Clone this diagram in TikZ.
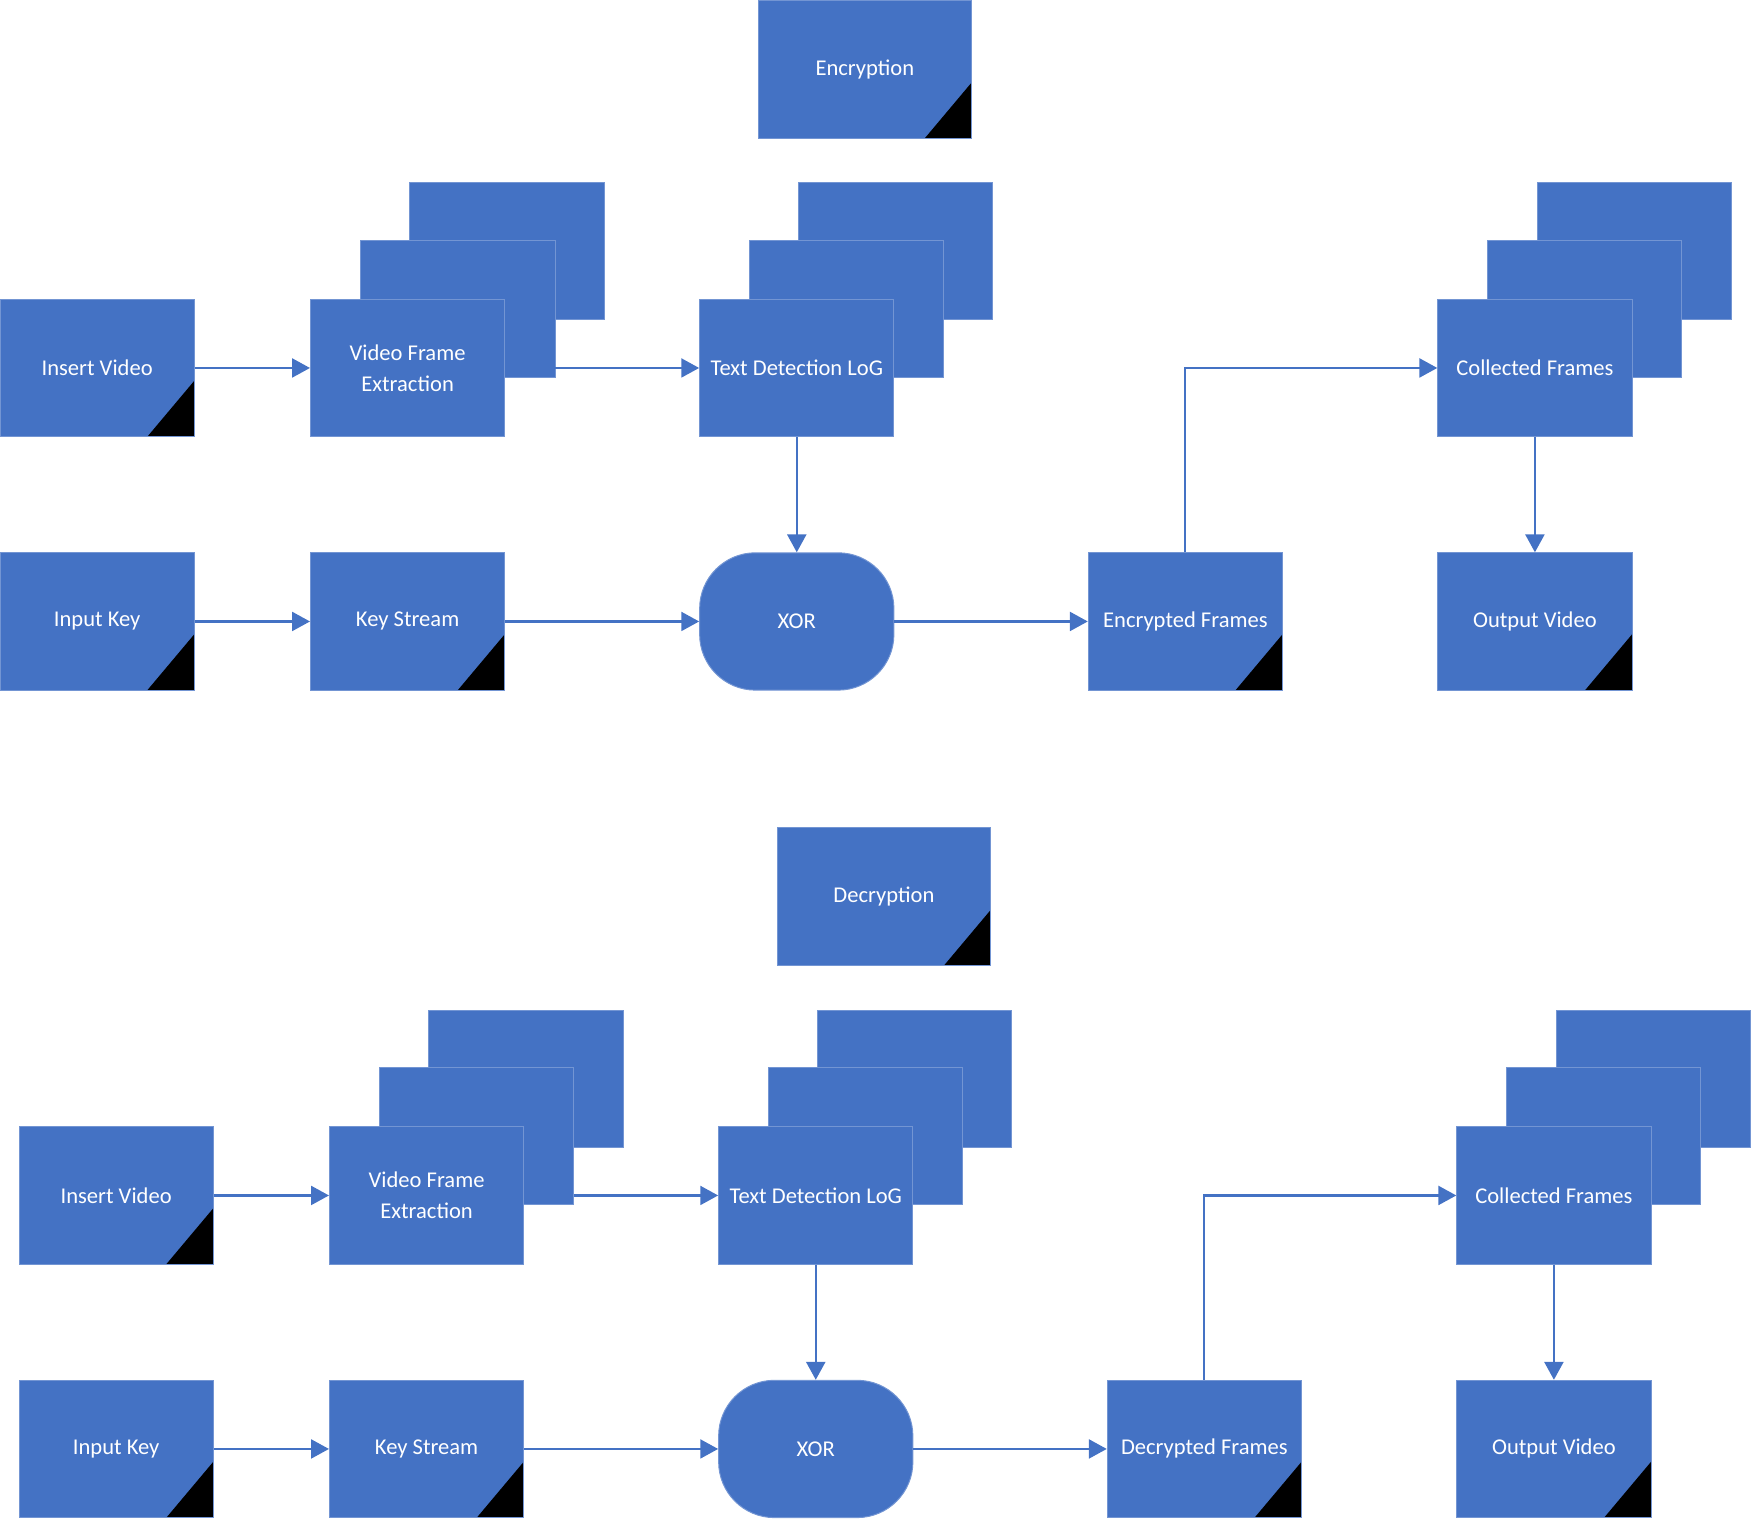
\documentclass[tikz,border=0pt]{standalone}
\usepackage{fontspec}
\setmainfont{Carlito}
\usetikzlibrary{arrows.meta}
\definecolor{blu}{RGB}{68,114,196}
\tikzset{
	blk/.style={
		fill=blu,
		draw=blu!75!white,
		line width=0.5pt,
		text=white,
		minimum width=3.48cm,
		minimum height=2.46cm,
		inner sep=0pt,
		align=center,
		font=\fontsize{11.5}{16}\selectfont,
	},
	corner/.style={
		path picture={\fill [black] (path picture bounding box.south east)
			-- ++(-0.84cm,0) -- ++(0.84cm,1cm) -- cycle;},
	},
	link/.style={
		-{Triangle[length=0.32cm,width=0.34cm]},
		blu,
		line width=1.1pt,
	},
}
% one panel: suffix, shift, title, name of the frames box
\newcommand\panel[5]{
	\begin{scope}[shift={(#2,#3)}]
		\node [blk, corner, minimum width=3.82cm, minimum height=2.48cm] (title#1) at (774.5,62) {#4};
		\node [blk] (vfeC#1) at (454,225) {};
		\node [blk] (vfeB#1) at (410,276.5) {};
		\node [blk] (vfe#1) at (365,329.5) {Video Frame\\Extraction};
		\node [blk] (tdlC#1) at (802,225) {};
		\node [blk] (tdlB#1) at (758,276.5) {};
		\node [blk] (tdl#1) at (713.5,329.5) {Text Detection LoG};
		\node [blk] (cfC#1) at (1463.5,225) {};
		\node [blk] (cfB#1) at (1419,276.5) {};
		\node [blk] (cf#1) at (1374.5,329.5) {Collected Frames};
		\node [blk, corner] (iv#1) at (87,329.5) {Insert Video};
		\node [blk, corner] (ik#1) at (87,556.5) {Input Key};
		\node [blk, corner] (ks#1) at (365,556.5) {Key Stream};
		\node [blk, rounded corners=1cm] (xor#1) at (713.5,556.5) {XOR};
		\node [blk, corner] (ef#1) at (1061.5,556.5) {#5};
		\node [blk, corner] (ov#1) at (1374.5,556.5) {Output Video};

		\draw [link] (iv#1) -- (vfe#1);
		\draw [link] (vfeB#1.east |- vfe#1) -- (tdl#1);
		\draw [link] (tdl#1) -- (xor#1);
		\draw [link] (ik#1) -- (ks#1);
		\draw [link] (ks#1) -- (xor#1);
		\draw [link] (xor#1) -- (ef#1);
		\draw [link] (ef#1) |- (cf#1);
		\draw [link] (cf#1) -- (ov#1);
	\end{scope}
}

\begin{document}
\begin{tikzpicture}[x=0.02cm, y=-0.02cm]
	\useasboundingbox (0,0) rectangle (1568,1360);
	\panel{e}{0}{0}{Encryption}{Encrypted Frames}
	\panel{d}{17}{741}{Decryption}{Decrypted Frames}
\end{tikzpicture}
\end{document}
